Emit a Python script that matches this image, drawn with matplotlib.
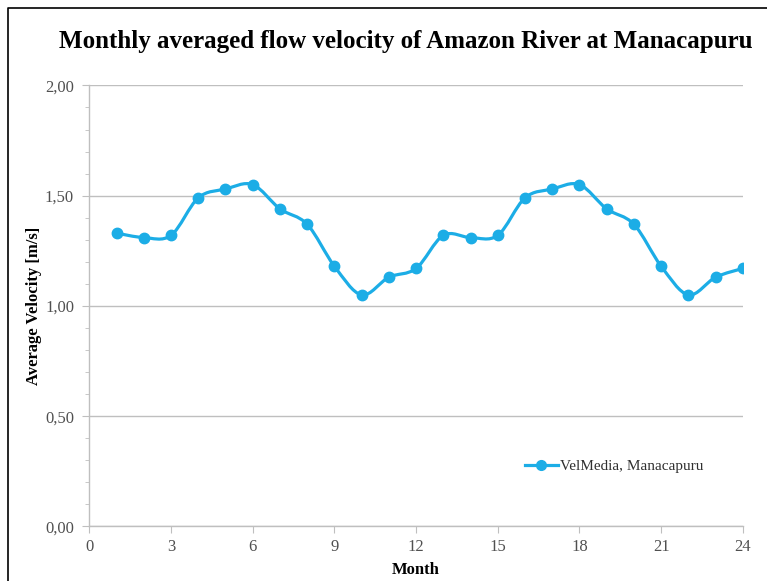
import numpy as np
import matplotlib
matplotlib.use("Agg")
import matplotlib.pyplot as plt
from matplotlib.path import Path
from matplotlib.patches import PathPatch
from matplotlib.lines import Line2D
from matplotlib.ticker import MultipleLocator, FuncFormatter

months = list(range(1, 25))
velocity = [1.33, 1.31, 1.32, 1.49, 1.53, 1.55, 1.44, 1.37, 1.18, 1.05, 1.13, 1.17,
            1.32, 1.31, 1.32, 1.49, 1.53, 1.55, 1.44, 1.37, 1.18, 1.05, 1.13, 1.17]
series_name = "VelMedia, Manacapuru"

title = "Monthly averaged flow velocity of Amazon River at Manacapuru"
xlabel = "Month"
ylabel = "Average Velocity [m/s]"

blue = "#1CADE6"
grid_col = "#BFBFBF"
txt_col = "#505050"

plt.rcParams["font.family"] = ["Liberation Serif", "DejaVu Serif"]

fig = plt.figure(figsize=(7.67, 5.81), dpi=100)
ax = fig.add_axes([0.1165, 0.094, 0.852, 0.759])

# smoothed line like excel (bezier between points)
x = np.array(months, dtype=float)
y = np.array(velocity)
verts = [(x[0], y[0])]
codes = [Path.MOVETO]
for i in range(len(x) - 1):
    x0, y0 = (x[i - 1], y[i - 1]) if i > 0 else (x[i], y[i])
    x3, y3 = (x[i + 2], y[i + 2]) if i + 2 < len(x) else (x[i + 1], y[i + 1])
    c1 = (x[i] + (x[i + 1] - x0) / 6, y[i] + (y[i + 1] - y0) / 6)
    c2 = (x[i + 1] - (x3 - x[i]) / 6, y[i + 1] - (y3 - y[i]) / 6)
    verts += [c1, c2, (x[i + 1], y[i + 1])]
    codes += [Path.CURVE4] * 3
ax.add_patch(PathPatch(Path(verts, codes), fill=False, edgecolor=blue, lw=2.3,
                       capstyle="round", joinstyle="round", zorder=3))
ax.plot(months, velocity, ls="none", marker="o", ms=7.5, color=blue, zorder=4)

# legend handle
h = Line2D([], [], color=blue, lw=2.3, marker="o", ms=7)
leg = ax.legend([h], [series_name], loc="center left", bbox_to_anchor=(0.645, 0.136),
                frameon=False, handlelength=2.2, handletextpad=0.1,
                prop={"family": "Liberation Serif", "size": 11})
for t in leg.get_texts():
    t.set_color("#303030")

ax.set_xlim(0, 24)
ax.set_ylim(0, 2)
ax.xaxis.set_major_locator(MultipleLocator(3))
ax.yaxis.set_major_locator(MultipleLocator(0.5))
ax.yaxis.set_minor_locator(MultipleLocator(0.1))
ax.yaxis.set_major_formatter(FuncFormatter(lambda v, p: f"{v:.2f}".replace(".", ",")))
ax.grid(axis="y", which="major", color=grid_col, lw=1.0)
ax.set_axisbelow(True)

for s in ["top", "right"]:
    ax.spines[s].set_visible(False)
for s in ["left", "bottom"]:
    ax.spines[s].set_color(grid_col)
    ax.spines[s].set_linewidth(1.0)

ax.tick_params(axis="both", which="both", color=grid_col, direction="out",
               labelsize=12, labelcolor=txt_col)
ax.tick_params(axis="y", which="major", length=5, pad=6)
ax.tick_params(axis="y", which="minor", length=3)
ax.tick_params(axis="x", which="major", length=5, pad=4)

ax.set_xlabel(xlabel, fontsize=12, fontweight="bold", labelpad=5)
ax.set_ylabel(ylabel, fontsize=12, fontweight="bold", labelpad=2)
fig.text(0.529, 0.929, title, ha="center", va="center", fontsize=18,
         fontweight="bold")

# frame around the figure (left and top edges)
fig.add_artist(Line2D([0.0105, 0.0105, 1.0], [0.0, 0.986, 0.986],
                      transform=fig.transFigure, color="black", lw=1.2))

fig.savefig("out.png", dpi=100)
